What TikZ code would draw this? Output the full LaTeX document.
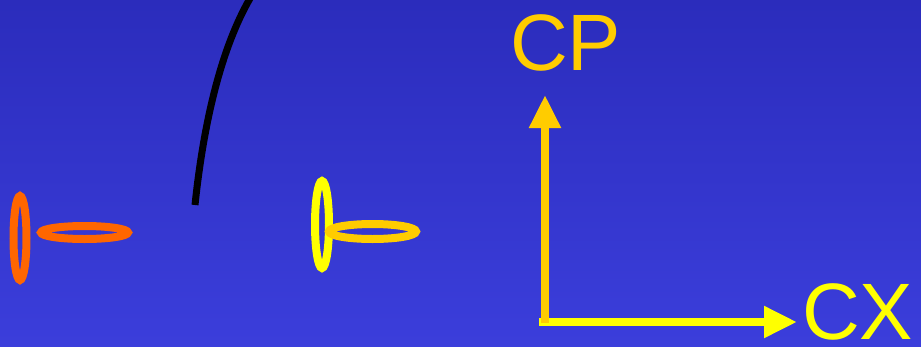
\documentclass[tikz,border=0pt]{standalone}
\usepackage{fontspec}
\setmainfont{Liberation Sans}
\usetikzlibrary{arrows.meta}
\usetikzlibrary{positioning}
\definecolor{bg-top}{HTML}{2B2CBC}
\definecolor{bg-bot}{HTML}{3B3EDB}
\definecolor{ring-orange}{HTML}{FF6600}
\definecolor{ring-yellow}{HTML}{FFFF00}
\definecolor{ring-gold}{HTML}{FFCC00}
\tikzset{
  ring/.style={line width=8pt},
  axis/.style={line width=8pt, -{Triangle[length=33pt,width=30pt]}},
  axislabel/.style={inner sep=0pt, anchor=base west, font=\fontsize{80}{80}\selectfont}
}

\begin{document}
\begin{tikzpicture}[x=1pt, y=-1pt]

    % fundo azul em degradê
    \shade[top color=bg-top, bottom color=bg-bot] (0,0) rectangle (921,346);
    \useasboundingbox (0,0) rectangle (921,346);

    % --- traço curvo preto ---
    \draw[line width=7pt, black] (195,205) .. controls (205,110) and (225,40) .. (252,-5);

    % --- par de anéis laranja ---
    \draw[ring, ring-orange] (20,238) ellipse [x radius=6.5pt, y radius=42pt];
    \draw[ring, ring-orange] (84.5,232.5) ellipse [x radius=43.5pt, y radius=6.5pt];

    % --- par de anéis amarelos ---
    \draw[ring, ring-yellow] (322,224.5) ellipse [x radius=7pt, y radius=43.5pt];
    \draw[ring, ring-gold] (372.5,231.5) ellipse [x radius=43.5pt, y radius=7.5pt];

    % --- eixos CX / CP ---
    \node[axislabel, ring-gold] (cp) at (510,70) {CP};
    \node[axislabel, ring-yellow] (cx) at (802,339) {CX};
    \coordinate (origin) at (545,323);
    \coordinate (cpend) at (545,95);
    \coordinate (cxstart) at (539,322);
    \coordinate (cxend) at (797,322);

    \draw[axis, ring-yellow] (cxstart) -- (cxend);
    \draw[axis, ring-gold] (origin) -- (cpend);

\end{tikzpicture}
\end{document}
